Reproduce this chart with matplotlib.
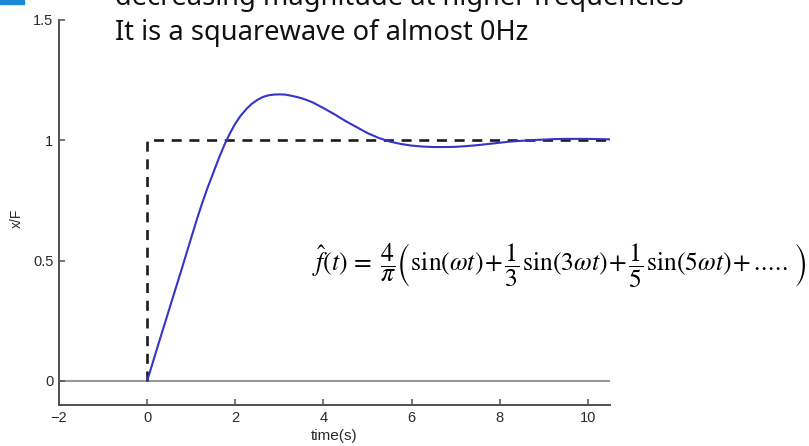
import matplotlib
matplotlib.use('Agg')
import matplotlib.pyplot as plt
from matplotlib.patches import Rectangle

# ---- data ----
time_s = [0.0, 0.25, 0.5, 0.75, 1.0, 1.125, 1.25, 1.375, 1.5, 1.625, 1.75,
          1.875, 2.0, 2.125, 2.25, 2.375, 2.5, 2.625, 2.75, 2.875, 3.0,
          3.125, 3.25, 3.375, 3.5, 3.625, 3.75, 3.875, 4.0, 4.125, 4.25,
          4.375, 4.5, 4.75, 5.0, 5.25, 5.5, 5.75, 6.0, 6.25, 6.5, 6.75,
          7.0, 7.25, 7.5, 7.75, 8.0, 8.25, 8.5, 8.75, 9.0, 9.25, 9.5, 9.75,
          10.0, 10.25, 10.5]
response = [0.000, 0.150, 0.298, 0.445, 0.595, 0.670, 0.740, 0.805, 0.865,
            0.925, 0.980, 1.028, 1.070, 1.103, 1.130, 1.152, 1.168, 1.180,
            1.187, 1.190, 1.191, 1.190, 1.186, 1.181, 1.175, 1.167, 1.158,
            1.146, 1.134, 1.121, 1.108, 1.094, 1.080, 1.055, 1.030, 1.010,
            0.995, 0.985, 0.978, 0.974, 0.972, 0.972, 0.973, 0.976, 0.980,
            0.985, 0.990, 0.995, 0.998, 1.001, 1.003, 1.005, 1.006, 1.006,
            1.006, 1.005, 1.004]
step_t = [0.0, 0.0, 10.5]
step_y = [0.0, 1.0, 1.0]
xticks = [-2, 0, 2, 4, 6, 8, 10]
yticks = [0, 0.5, 1, 1.5]
ytick_labels = ['0', '0.5', '1', '1.5']
xlabel = 'time(s)'
ylabel = 'x/F'
line_top = 'decreasing magnitude at higher frequencies'
line_main = 'It is a squarewave of almost 0Hz'
PLUS = r'\hspace{0.1}{+}\hspace{0.15}'
equation = (r'$\hat{f}(t)\hspace{0.15}{=}\hspace{0.3}\dfrac{4}{\pi}'
            r'\left(\hspace{0.05}\sin(\omega t)' + PLUS +
            r'\dfrac{1}{3}\hspace{0.08}\sin(3\omega t)' + PLUS +
            r'\dfrac{1}{5}\hspace{0.08}\sin(5\omega t)' + PLUS +
            r'.\!.\!.\!.\!.\hspace{0.1}\right)$')

W, H = 809, 446
plt.rcParams['mathtext.fontset'] = 'stix'
fig = plt.figure(figsize=(W / 100, H / 100), dpi=100)
fig.patch.set_facecolor('white')

ax = fig.add_axes([59 / W, (H - 405) / H, 551 / W, 385 / H])
ax.set_xlim(-2, 10.5)
ax.set_ylim(-0.1, 1.5)

ax.axhline(0, color='#8c8c8c', lw=1.3, zorder=1)
ax.plot(step_t, step_y, color='#1c1c1c', lw=1.9,
        linestyle=(0, (3.8, 2.9)), zorder=2)
ax.plot(time_s, response, color='#3434c8', lw=1.5, zorder=3,
        solid_joinstyle='round', solid_capstyle='round')

for s in ['top', 'right']:
    ax.spines[s].set_visible(False)
for s in ['left', 'bottom']:
    ax.spines[s].set_color('#505050')
    ax.spines[s].set_linewidth(1.4)

ax.set_xticks(xticks)
ax.set_xticklabels([str(v) if v >= 0 else '\u2212' + str(-v) for v in xticks])
ax.set_yticks(yticks)
ax.set_yticklabels(ytick_labels)
ax.tick_params(direction='in', length=4, width=1.1, color='#505050',
               labelcolor='#2a2a2a', labelsize=10.5, pad=4)
for lab in ax.get_xticklabels() + ax.get_yticklabels():
    lab.set_family('Liberation Sans')

ax.set_xlabel(xlabel, fontsize=11, family='Liberation Sans', color='#2a2a2a',
              labelpad=3)
fig.text(17 / W, 1 - 218 / H, ylabel, rotation=90, fontsize=10,
         family='Liberation Sans', color='#2a2a2a', ha='center', va='center')

# decorative blue block top-left
fig.patches.append(Rectangle((0, 1 - 3.5 / H), 24 / W, 3.5 / H,
                             transform=fig.transFigure, color='#1b87d6',
                             zorder=5))

t1 = fig.text(115 / W, 1 - 5 / H, line_top, fontsize=19, family='Noto Sans',
              color='#111111', ha='left', va='baseline')
t2 = fig.text(115 / W, 1 - 40 / H, line_main, fontsize=19, family='Noto Sans',
              color='#111111', ha='left', va='baseline')
eq = fig.text(312 / W, 1 - 271 / H, equation, fontsize=19, color='black',
              ha='left', va='baseline')

fig.canvas.draw()
r = fig.canvas.get_renderer()
w2 = t2.get_window_extent(r).width
fs = 19 * 413 / w2
t1.set_fontsize(fs)
t2.set_fontsize(fs)
we = eq.get_window_extent(r).width
eq.set_fontsize(19 * 493 / we)

fig.savefig('out.png', dpi=100)
